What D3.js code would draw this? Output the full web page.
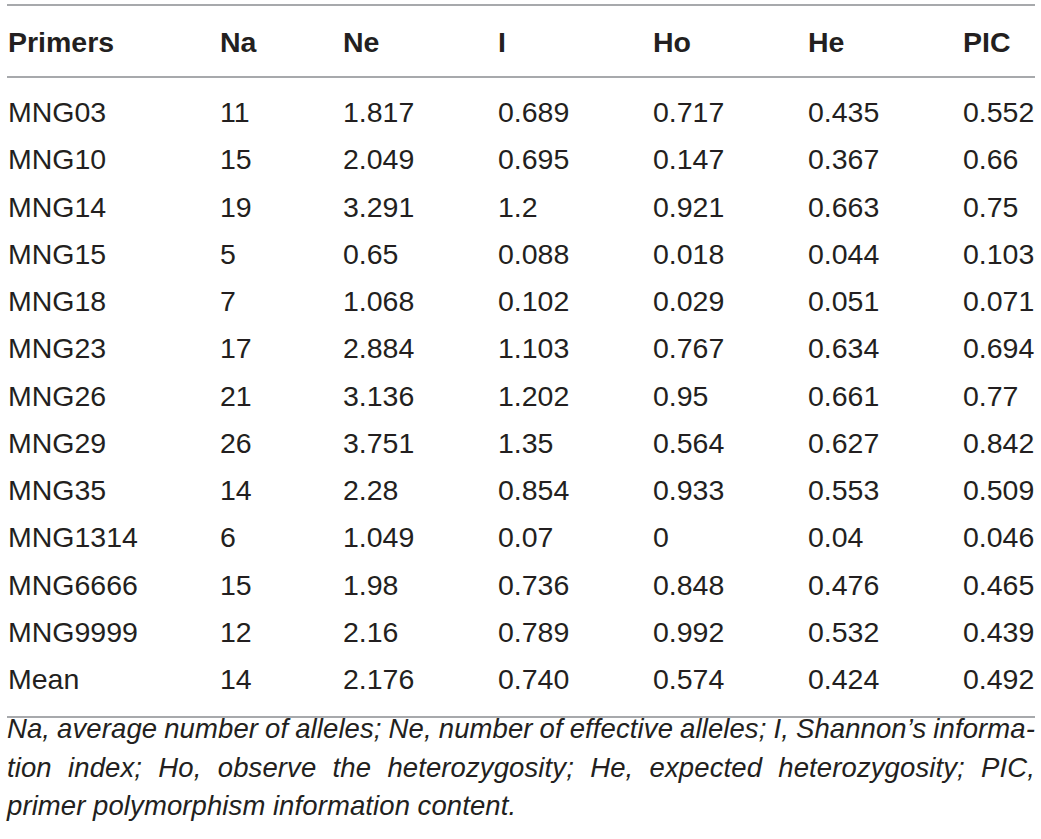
<!DOCTYPE html>
<html>
<head>
<meta charset="utf-8">
<script src="https://cdn.jsdelivr.net/npm/d3@7"></script>
<style>
  body { margin: 0; background: #ffffff; }
  text { font-family: "Liberation Sans", Arial, sans-serif; fill: #231f20; }
</style>
</head>
<body>
<svg id="table"></svg>
<script>
const width = 1041, height = 839

const columns = ["Primers", "Na", "Ne", "I", "Ho", "He", "PIC"]
const primers = ["MNG03", "MNG10", "MNG14", "MNG15", "MNG18", "MNG23", "MNG26", "MNG29", "MNG35", "MNG1314", "MNG6666", "MNG9999", "Mean"]
const na = ["11", "15", "19", "5", "7", "17", "21", "26", "14", "6", "15", "12", "14"]
const ne = ["1.817", "2.049", "3.291", "0.65", "1.068", "2.884", "3.136", "3.751", "2.28", "1.049", "1.98", "2.16", "2.176"]
const shannon = ["0.689", "0.695", "1.2", "0.088", "0.102", "1.103", "1.202", "1.35", "0.854", "0.07", "0.736", "0.789", "0.740"]
const ho = ["0.717", "0.147", "0.921", "0.018", "0.029", "0.767", "0.95", "0.564", "0.933", "0", "0.848", "0.992", "0.574"]
const he = ["0.435", "0.367", "0.663", "0.044", "0.051", "0.634", "0.661", "0.627", "0.553", "0.04", "0.476", "0.532", "0.424"]
const pic = ["0.552", "0.66", "0.75", "0.103", "0.071", "0.694", "0.77", "0.842", "0.509", "0.046", "0.465", "0.439", "0.492"]

const footnote = [
    "Na, average number of alleles; Ne, number of effective alleles; I, Shannon\u2019s informa-",
    "tion index; Ho, observe the heterozygosity; He, expected heterozygosity; PIC,",
    "primer polymorphism information content.",
]

const rows = primers.map((p, i) => [p, na[i], ne[i], shannon[i], ho[i], he[i], pic[i]])

const left = 7, right = 1035

const svg = d3.select("svg#table")
    .attr("viewBox", [0, 0, width, height])
    .attr("width", width)
    .attr("height", height)

// column positions (left aligned text)
const xScale = d3.scaleOrdinal()
    .domain(columns)
    .range([8, 220, 343, 498, 653, 808, 963])

// row baselines
const yScale = d3.scalePoint()
    .domain(primers)
    .range([122, 689])

// rules
svg.selectAll("line.rule")
    .data([5, 77, 717])
    .join("line").attr("class", "rule")
    .attr("x1", left)
    .attr("x2", right)
    .attr("y1", d => d)
    .attr("y2", d => d)
    .attr("stroke", "#a7a9ac")
    .attr("stroke-width", 2)

// header
svg.selectAll("text.head")
    .data(columns)
    .join("text").attr("class", "head")
    .attr("x", d => xScale(d))
    .attr("y", 52)
    .attr("font-size", 28.5)
    .attr("font-weight", "bold")
    .text(d => d)

// body
const rowGroups = svg.selectAll("g.row")
    .data(rows)
    .join("g").attr("class", "row")
    .attr("transform", d => `translate(0, ${yScale(d[0])})`)

rowGroups.selectAll("text")
    .data(d => d)
    .join("text")
    .attr("x", (d, i) => xScale(columns[i]))
    .attr("font-size", 28.5)
    .text(d => d)

// footnote, justified like the source
function drawLine(str, y, justify) {
    const words = str.split(" ")
    const g = svg.append("g").attr("class", "foot")
    const texts = g.selectAll("text")
        .data(words)
        .join("text")
        .attr("y", y)
        .attr("font-size", 27.5)
        .attr("letter-spacing", 0.1)
        .attr("font-style", "italic")
        .text(d => d)
    const widths = texts.nodes().map(n => n.getComputedTextLength())
    const total = d3.sum(widths)
    const gap = justify ? (right - left - total) / (words.length - 1) : 7.5
    let x = left
    texts.attr("x", (d, i) => {
        const cur = x
        x += widths[i] + gap
        return cur
    })
}

footnote.forEach((line, i) => drawLine(line, 738 + i * 38.5, i < footnote.length - 1))
</script>
</body>
</html>
